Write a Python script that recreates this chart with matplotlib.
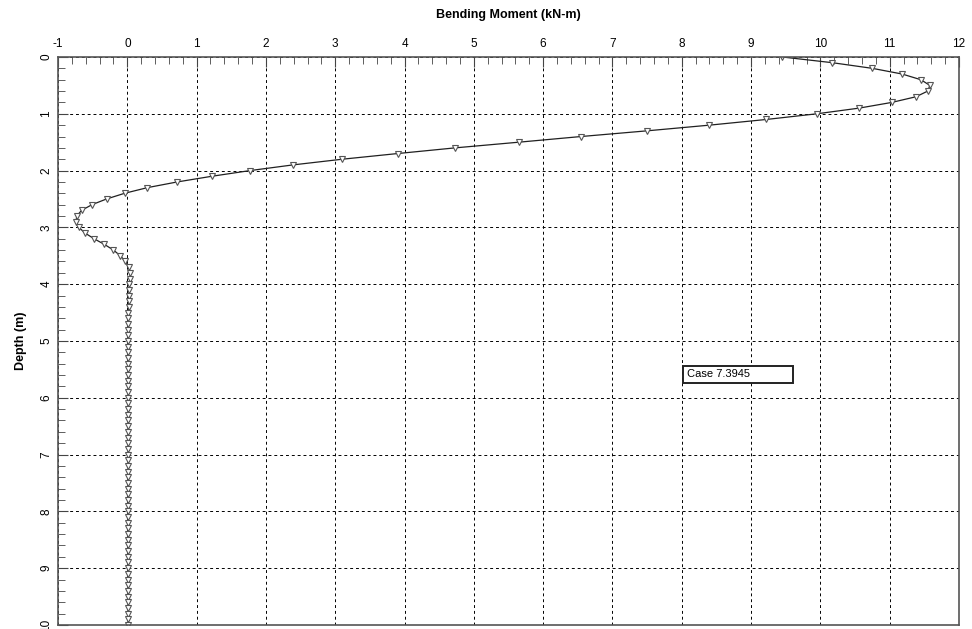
import numpy as np
import matplotlib
matplotlib.use('Agg')
import matplotlib.pyplot as plt
from matplotlib.ticker import MultipleLocator
from matplotlib.patches import Rectangle

# depth every 0.1 m
depth = [round(0.1 * i, 1) for i in range(101)]
moment = [
    9.45, 10.17, 10.75, 11.18, 11.45, 11.58, 11.55, 11.38, 11.03, 10.56,
    9.95, 9.22, 8.40, 7.50, 6.55, 5.65, 4.73, 3.90, 3.10, 2.39,
    1.77, 1.22, 0.72, 0.29, -0.04, -0.30, -0.51, -0.66, -0.73, -0.74,
    -0.70, -0.61, -0.48, -0.33, -0.20, -0.10, -0.03, 0.02, 0.04, 0.04,
    0.03, 0.03, 0.02, 0.02, 0.02, 0.01, 0.01, 0.01, 0.01, 0.01,
    0.01, 0.01, 0.01, 0.01, 0.01, 0.01, 0.01, 0.01, 0.01, 0.01,
    0.01, 0.01, 0.01, 0.01, 0.01, 0.01, 0.01, 0.01, 0.01, 0.01,
    0.01, 0.01, 0.01, 0.01, 0.01, 0.01, 0.01, 0.01, 0.01, 0.01,
    0.01, 0.01, 0.01, 0.01, 0.01, 0.01, 0.01, 0.01, 0.01, 0.01,
    0.01, 0.01, 0.01, 0.01, 0.01, 0.01, 0.01, 0.01, 0.01, 0.01,
    0.01,
]
case_label = 'Case 7.3945'

plt.rcParams['font.family'] = ['Liberation Sans', 'DejaVu Sans']
plt.rcParams['axes.unicode_minus'] = False

fig = plt.figure(figsize=(9.72, 6.29), dpi=100)
ax = fig.add_axes([0.0597, 0.0064, 0.9269, 0.903])

ax.plot(moment, depth, color='#202020', lw=0.9, marker='v', ms=4.5,
        mfc='white', mec='#555555', mew=0.8)

ax.set_xlim(-1, 12)
ax.set_ylim(10, 0)
ax.xaxis.set_major_locator(MultipleLocator(1))
ax.xaxis.set_minor_locator(MultipleLocator(0.2))
ax.yaxis.set_major_locator(MultipleLocator(1))
ax.yaxis.set_minor_locator(MultipleLocator(0.2))
ax.xaxis.tick_top()
ax.tick_params(axis='x', which='both', direction='in', top=True, bottom=False,
               labelsize=8.5, pad=5)
ax.tick_params(axis='y', which='both', direction='in', left=True, right=False,
               labelsize=8.5, labelrotation=90, pad=4)
ax.tick_params(which='major', length=7, color='#444444')
ax.tick_params(which='minor', length=5, color='#444444')
for lbl in ax.get_yticklabels():
    lbl.set_va('center')

ax.grid(True, which='major', color='black', ls=(0, (3, 3)), lw=0.7)
for s in ax.spines.values():
    s.set_color('#555555')
    s.set_linewidth(1.2)

ax.set_title('Bending Moment (kN-m)', fontsize=9, fontweight='bold', pad=28)
ax.set_ylabel('Depth (m)', fontsize=9, fontweight='bold', labelpad=10)

# case label box
ax.add_patch(Rectangle((8.02, 5.44), 1.58, 0.30, fc='white', ec='#222222',
                       lw=1.4, zorder=5))
ax.text(8.08, 5.59, case_label, fontsize=8, va='center', ha='left', zorder=6)

fig.savefig('out.png', dpi=100)
